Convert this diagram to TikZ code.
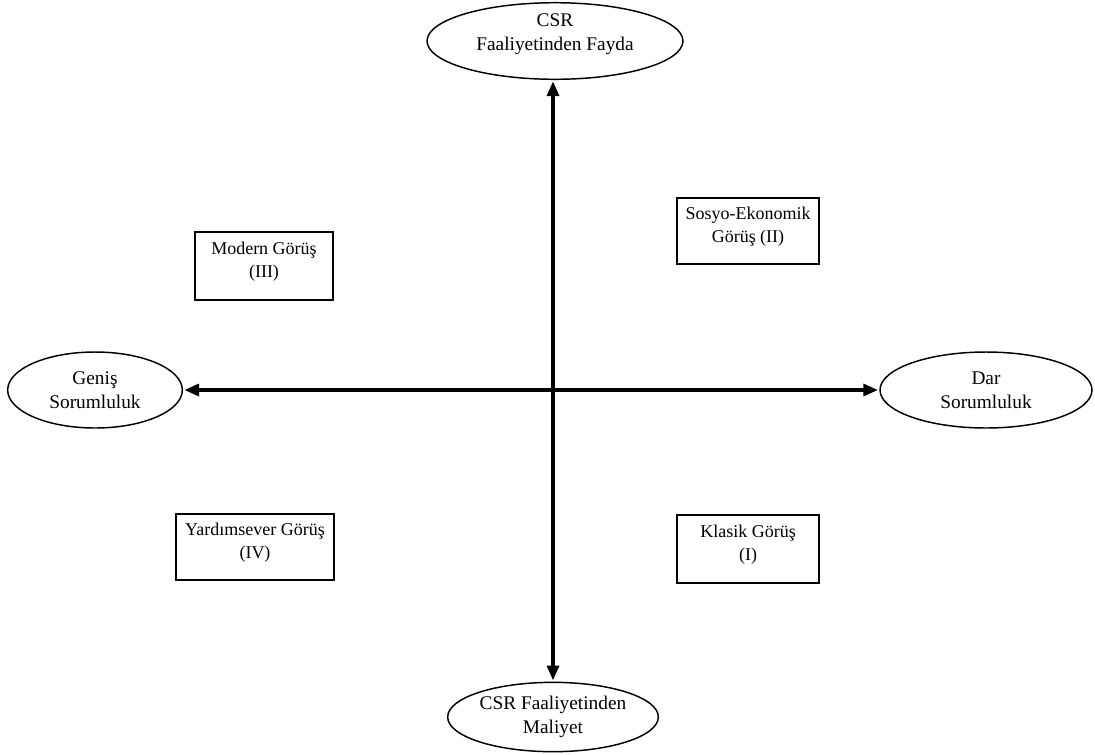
\documentclass[tikz,border=0pt]{standalone}
\usepackage{fontspec}
\setmainfont{Liberation Serif}
\usetikzlibrary{shapes.geometric,arrows.meta}
\tikzset{
  ell/.style={draw, ellipse, line width=1.1pt, inner sep=0pt, align=center, font=\fontsize{14.5}{18}\selectfont},
  viewbox/.style={draw, rectangle, line width=1.3pt, inner sep=0pt, align=center, text depth=9pt, font=\fontsize{13.5}{17.5}\selectfont},
  axis/.style={line width=2.4pt, {Triangle[length=11pt,width=9pt]}-{Triangle[length=11pt,width=9pt]}, shorten <=1pt, shorten >=1pt}
}
\begin{document}
\begin{tikzpicture}[x=0.75pt,y=-0.75pt]
\useasboundingbox (0,0) rectangle (1095,754);
\node[ell, minimum width=192pt, minimum height=57pt, text depth=13pt] (top) at (555,41) {CSR\\Faaliyetinden Fayda};
\node[ell, minimum width=158pt, minimum height=52pt] (bot) at (553,717) {CSR Faaliyetinden\\Maliyet};
\node[ell, minimum width=131pt, minimum height=57pt] (left) at (95,390) {Geniş\\Sorumluluk};
\node[ell, minimum width=159pt, minimum height=57pt] (right) at (986,390) {Dar\\Sorumluluk};
\draw[axis] (bot.north) -- (top.south -| bot.north);
\draw[axis] (left.east) -- (right.west);
\node[viewbox, minimum width=103pt, minimum height=51pt] (modern) at (264,266) {Modern Görüş\\(III)};
\node[viewbox, minimum width=106pt, minimum height=50pt] (sosyo) at (748,231) {Sosyo-Ekonomik\\Görüş (II)};
\node[viewbox, minimum width=118pt, minimum height=49pt] (yardim) at (255,547) {Yardımsever Görüş\\(IV)};
\node[viewbox, minimum width=106pt, minimum height=51pt] (klasik) at (748,549) {Klasik Görüş\\(I)};
\end{tikzpicture}
\end{document}
